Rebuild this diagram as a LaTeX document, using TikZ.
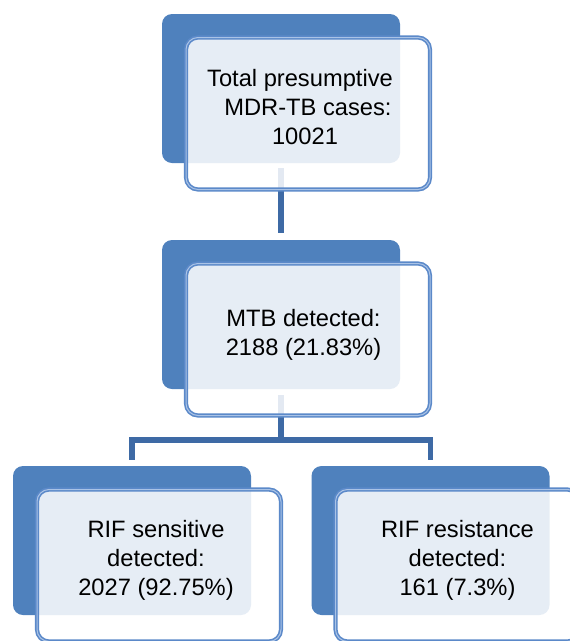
\documentclass[tikz,border=0pt]{standalone}
\usepackage{fontspec}
\setmainfont{Liberation Sans}
\usetikzlibrary{positioning}
\definecolor{boxblue}{RGB}{79,129,189}
\definecolor{rimblue}{RGB}{91,137,201}
\definecolor{rimlight}{RGB}{170,195,230}
\definecolor{linkblue}{RGB}{62,106,165}

\begin{document}
\begin{tikzpicture}[x=1pt,y=-1pt,
    backbox/.style={fill=boxblue,rounded corners=10pt,minimum width=238pt,minimum height=149pt,inner sep=0pt,outer sep=0pt},
    frontbox/.style={draw=rimblue,double=rimlight,double distance=1pt,line width=1.6pt,fill=white,fill opacity=0.86,rounded corners=12pt,minimum width=244pt,minimum height=152pt,inner sep=0pt,outer sep=0pt},
    link/.style={draw=linkblue,line width=5.5pt},
    txt/.style={font=\fontsize{23.7}{29}\selectfont,align=center,inner sep=0pt}]
    \path[use as bounding box,clip] (0,0) rectangle (570,641);
    \node[backbox] (totalBack) at (281,88.5) {};
    \node[backbox,below=77pt of totalBack] (mtbBack) {};
    \node[backbox,below=77pt of mtbBack,xshift=-149pt] (sensBack) {};
    \node[backbox,below=77pt of mtbBack,xshift=149.5pt] (resBack) {};
    \draw[link] ([yshift=-5pt]totalBack.south) -- ([yshift=7pt]mtbBack.north);
    \draw[link] ([yshift=-6pt]mtbBack.south) -- ++(0,45) -| ([yshift=6pt]sensBack.north);
    \draw[link] ([yshift=-6pt]mtbBack.south) -- ++(0,45) -| ([yshift=6pt]resBack.north);
    \node[frontbox] (totalFront) at ([shift={(27,25)}]totalBack) {};
    \node[frontbox] (mtbFront) at ([shift={(27,25)}]mtbBack) {};
    \node[frontbox] (sensFront) at ([shift={(27,25)}]sensBack) {};
    \node[frontbox] (resFront) at ([shift={(27,25)}]resBack) {};
    \node[txt] (totalText) at ([shift={(-8,-6)}]totalFront) {Total presumptive\\\hspace*{16pt}MDR-TB cases:\\\hspace*{10pt}10021};
    \node[txt] (mtbText) at ([shift={(-4.5,-5)}]mtbFront) {MTB detected:\\2188 (21.83\%)};
    \node[txt] (sensText) at ([shift={(-3,-5)}]sensFront) {RIF sensitive\\detected:\\2027 (92.75\%)};
    \node[txt] (resText) at ([shift={(0,-5)}]resFront) {RIF resistance\\detected:\\161 (7.3\%)};
\end{tikzpicture}
\end{document}
